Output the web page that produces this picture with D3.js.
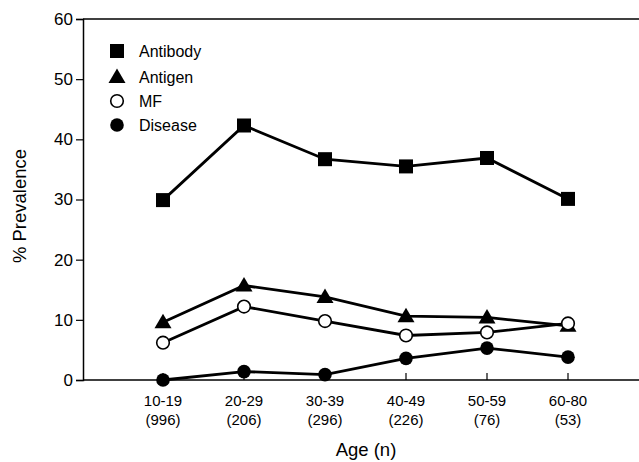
<!DOCTYPE html>
<html>
<head>
<meta charset="utf-8">
<script src="https://cdn.jsdelivr.net/npm/d3@7"></script>
<style>
  body { margin: 0; background: #fff; }
  svg { display: block; font-family: "Liberation Sans", Arial, Helvetica, sans-serif; }
</style>
</head>
<body>
<div id="chart"></div>
<script>
// Data
const ageGroups = ["10-19", "20-29", "30-39", "40-49", "50-59", "60-80"];
const groupSizes = ["(996)", "(206)", "(296)", "(226)", "(76)", "(53)"];
const antibody = [29.9, 42.3, 36.7, 35.5, 36.9, 30.1];
const antigen = [9.6, 15.7, 13.8, 10.6, 10.4, 9.0];
const mf = [6.2, 12.2, 9.8, 7.4, 7.9, 9.4];
const disease = [0, 1.4, 0.9, 3.6, 5.3, 3.8];
const yTicks = [0, 10, 20, 30, 40, 50, 60];

const series = [
    { name: "Antibody", values: antibody, symbol: "square" },
    { name: "Antigen", values: antigen, symbol: "triangle" },
    { name: "MF", values: mf, symbol: "open" },
    { name: "Disease", values: disease, symbol: "dot" }
];

const width = 639;
const height = 462;
const plotLeft = 83, plotRight = 639, plotTop = 19, plotBottom = 380;

const svg = d3.select("#chart").append("svg")
    .attr("width", width)
    .attr("height", height);

const x = d3.scalePoint()
    .domain(ageGroups)
    .range([163, 568]);

const y = d3.scaleLinear()
    .domain([0, 60])
    .range([plotBottom, plotTop]);

// frame: left axis, top line, bottom axis
svg.append("line")
    .attr("x1", plotLeft).attr("x2", plotRight)
    .attr("y1", plotTop).attr("y2", plotTop)
    .attr("stroke", "#000").attr("stroke-width", 1.5);

const yAxis = svg.append("g")
    .attr("transform", `translate(${plotLeft},0)`)
    .call(d3.axisLeft(y).tickValues(yTicks).tickSize(7).tickPadding(3));
yAxis.select(".domain").attr("stroke-width", 1.5);
yAxis.selectAll(".tick line").attr("stroke-width", 1.2);
yAxis.selectAll("text").attr("font-size", 17).attr("fill", "#000")
    .attr("font-family", "Liberation Sans, Arial, sans-serif");

const xAxis = svg.append("g")
    .attr("transform", `translate(0,${plotBottom})`);
xAxis.append("line")
    .attr("x1", plotLeft).attr("x2", plotRight)
    .attr("stroke", "#000").attr("stroke-width", 1.5);
xAxis.selectAll(".xt")
    .data(ageGroups)
    .join("line")
    .attr("x1", d => x(d)).attr("x2", d => x(d))
    .attr("y1", 0).attr("y2", -7)
    .attr("stroke", "#000").attr("stroke-width", 1.2);
xAxis.selectAll(".xl")
    .data(ageGroups)
    .join("text")
    .attr("x", d => x(d))
    .attr("y", 26)
    .attr("text-anchor", "middle")
    .attr("font-size", 15)
    .text(d => d);
xAxis.selectAll(".xn")
    .data(groupSizes)
    .join("text")
    .attr("x", (d, i) => x(ageGroups[i]))
    .attr("y", 45)
    .attr("text-anchor", "middle")
    .attr("font-size", 15)
    .text(d => d);

// axis titles
svg.append("text")
    .attr("x", 366)
    .attr("y", 456)
    .attr("text-anchor", "middle")
    .attr("font-size", 18.5)
    .text("Age (n)");

svg.append("text")
    .attr("transform", "translate(26,206) rotate(-90)")
    .attr("text-anchor", "middle")
    .attr("font-size", 18.5)
    .text("% Prevalence");

// lines
const line = d3.line()
    .x((d, i) => x(ageGroups[i]))
    .y(d => y(d));

svg.append("g")
    .selectAll("path")
    .data(series)
    .join("path")
    .attr("d", d => line(d.values))
    .attr("fill", "none")
    .attr("stroke", "#000")
    .attr("stroke-width", 2.8);

function drawMarker(g, symbol) {
    if (symbol === "square") {
        g.append("rect").attr("x", -7).attr("y", -7).attr("width", 14).attr("height", 14).attr("fill", "#000");
    } else if (symbol === "triangle") {
        g.append("path").attr("d", "M0,-8.5L8.5,6L-8.5,6Z").attr("fill", "#000");
    } else if (symbol === "open") {
        g.append("circle").attr("r", 6.3).attr("fill", "#fff").attr("stroke", "#000").attr("stroke-width", 1.6);
    } else {
        g.append("circle").attr("r", 6.8).attr("fill", "#000");
    }
}

series.forEach(s => {
    svg.append("g")
        .selectAll("g")
        .data(s.values)
        .join("g")
        .attr("transform", (d, i) => `translate(${x(ageGroups[i])},${y(d)})`)
        .each(function () { drawMarker(d3.select(this), s.symbol); });
});

// legend
const legendY = [51, 77, 101, 125];
const legend = svg.append("g");
series.forEach((s, i) => {
    const g = legend.append("g").attr("transform", `translate(117,${legendY[i]})`);
    drawMarker(g, s.symbol);
    g.append("text")
        .attr("x", 22)
        .attr("dy", "0.36em")
        .attr("font-size", 16)
        .text(s.name);
});
</script>
</body>
</html>
